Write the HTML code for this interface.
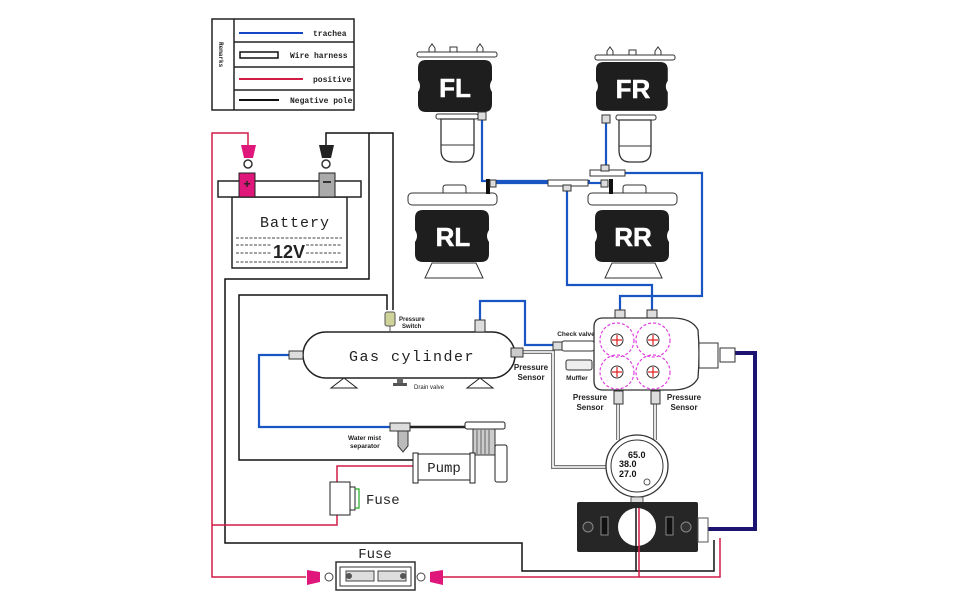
<!DOCTYPE html>
<html><head><meta charset="utf-8"><style>
html,body{margin:0;padding:0;background:#fff;}
svg{display:block;}
text{font-family:"Liberation Mono","DejaVu Sans Mono",monospace;}
.s{font-family:"Liberation Sans",sans-serif;font-weight:bold;}
</style></head><body>
<svg width="970" height="600" viewBox="0 0 970 600" xmlns="http://www.w3.org/2000/svg">
<rect width="970" height="600" fill="#fff"/>
<!-- Legend -->
<g stroke="#222" stroke-width="1.5" fill="none">
<rect x="212" y="19" width="142" height="91"/>
<line x1="234" y1="19" x2="234" y2="110"/>
<line x1="234" y1="42" x2="354" y2="42"/>
<line x1="234" y1="67" x2="354" y2="67"/>
<line x1="234" y1="90" x2="354" y2="90"/>
</g>
<line x1="239" y1="33" x2="303" y2="33" stroke="#1546c8" stroke-width="2"/>
<rect x="240" y="52" width="38" height="6" fill="none" stroke="#111" stroke-width="1.5"/>
<line x1="239" y1="79" x2="303" y2="79" stroke="#d21c46" stroke-width="2"/>
<line x1="239" y1="100" x2="279" y2="100" stroke="#111" stroke-width="2"/>
<g font-size="8" font-weight="bold" fill="#222">
<text x="313" y="36">trachea</text>
<text x="290" y="58">Wire harness</text>
<text x="313" y="82">positive</text>
<text x="290" y="103">Negative pole</text>
<text transform="translate(219,42) rotate(90)" font-size="6">Remarks</text>
</g>

<!-- black wires -->
<g stroke="#111" stroke-width="1.5" fill="none">
<polyline points="326,145 326,133 393,133 393,310"/>
<polyline points="369,133 369,279 225,279 225,543 522,543 522,571 714,571 714,540"/>
<polyline points="387,310 387,295 239,295 239,460 415,460"/>
<line x1="636" y1="510" x2="636" y2="571"/>
</g>
<!-- red wires -->
<g stroke="#d21c46" stroke-width="1.5" fill="none">
<polyline points="248,145 248,133 212,133 212,577 306,577"/>
<polyline points="443,577 720,577 720,538"/>
<line x1="639" y1="510" x2="639" y2="577"/>
<polyline points="415,466 337,466 337,482"/>
<polyline points="337,515 337,525 212,525"/>
</g>

<!-- Battery -->
<rect x="232" y="197" width="115" height="71" fill="#fff" stroke="#222" stroke-width="1.5"/>
<rect x="218" y="181" width="143" height="16" fill="#fff" stroke="#222" stroke-width="1.5"/>
<rect x="239" y="173" width="16" height="24" fill="#e0177a" stroke="#222"/>
<text x="247" y="188" font-size="12" fill="#fff" text-anchor="middle" class="s" style="fill:#222">+</text>
<rect x="319" y="173" width="16" height="24" fill="#aaa" stroke="#222"/>
<line x1="323" y1="182" x2="331" y2="182" stroke="#333" stroke-width="2"/>
<polygon points="241,145 256,145 253,158 244,158" fill="#e0177a"/>
<circle cx="248" cy="164" r="4" fill="#fff" stroke="#333" stroke-width="1.5"/>
<polygon points="319,145 334,145 331,158 322,158" fill="#222"/>
<circle cx="326" cy="164" r="4" fill="#fff" stroke="#333" stroke-width="1.5"/>
<text x="295" y="227" font-size="15" text-anchor="middle" fill="#222" style="letter-spacing:1px">Battery</text>
<g stroke="#444" stroke-width="1" stroke-dasharray="3,1.5">
<line x1="236" y1="238" x2="342" y2="238"/><line x1="236" y1="245" x2="272" y2="245"/><line x1="306" y1="245" x2="342" y2="245"/>
<line x1="236" y1="253" x2="272" y2="253"/><line x1="306" y1="253" x2="342" y2="253"/><line x1="236" y1="262" x2="342" y2="262"/>
</g>
<text x="289" y="258" font-size="18" text-anchor="middle" class="s" fill="#222">12V</text>

<!-- blue air lines -->
<g stroke="#1a55c4" stroke-width="2.2" fill="none">
<polyline points="482,118 482,181 590,181"/>
<polyline points="606,120 606,170"/>
<line x1="495" y1="183" x2="548" y2="183"/>
<line x1="588" y1="183" x2="602" y2="183"/>
<polyline points="567,187 567,285 652,285 652,312"/>
<polyline points="625,173 702,173 702,296 620,296 620,312"/>
<polyline points="480,320 480,301 525,301 525,345 553,345"/>
<polyline points="289,355 259,355 259,427 390,427"/>
</g>
<!-- gray sensor lines -->
<g fill="none" stroke="#777" stroke-width="4">
<polyline points="522,352 553,352 553,467 607,467"/>
<line x1="618" y1="404" x2="618" y2="440"/>
<line x1="655" y1="404" x2="655" y2="440"/>
</g>
<g fill="none" stroke="#fff" stroke-width="1.6">
<polyline points="522,352 553,352 553,467 607,467"/>
<line x1="618" y1="404" x2="618" y2="440"/>
<line x1="655" y1="404" x2="655" y2="440"/>
</g>
<!-- navy -->
<polyline points="735,353 755,353 755,529 708,529" fill="none" stroke="#1c1470" stroke-width="4"/>

<!-- Air springs -->
<defs>
<path id="bel" d="M8,0 H66 Q74,0 74,8 V20 Q70,26 74,32 V44 Q74,52 66,52 H8 Q0,52 0,44 V32 Q4,26 0,20 V8 Q0,0 8,0 Z"/>
</defs>
<!-- FL -->
<rect x="417" y="52" width="80" height="5" rx="2" fill="#fff" stroke="#333"/>
<g fill="#fff" stroke="#333"><path d="M429,52 v-4 l3,-4 l3,4 v4z"/><path d="M450,52 v-5 h7 v5z"/><path d="M477,52 v-4 l3,-4 l3,4 v4z"/></g>
<use href="#bel" x="418" y="60" fill="#1e1e1e"/>
<text x="455" y="97" font-size="26" text-anchor="middle" class="s" fill="#fff" stroke="#fff" stroke-width=".5">FL</text>
<rect x="436" y="114" width="42" height="5" rx="2" fill="#fff" stroke="#333"/>
<path d="M441,119 H474 V150 Q474,162 462,162 H453 Q441,162 441,150Z" fill="#fff" stroke="#333" stroke-width="1.3"/>
<line x1="441" y1="145" x2="474" y2="145" stroke="#333"/>
<rect x="478" y="112" width="8" height="8" fill="#ddd" stroke="#333"/>
<!-- FR -->
<rect x="595" y="55" width="80" height="5" rx="2" fill="#fff" stroke="#333"/>
<g fill="#fff" stroke="#333"><path d="M607,55 v-4 l3,-4 l3,4 v4z"/><path d="M629,55 v-5 h7 v5z"/><path d="M655,55 v-4 l3,-4 l3,4 v4z"/></g>
<use href="#bel" x="596" y="62" fill="#1e1e1e" transform="translate(596,62) scale(.97,0.94) translate(-596,-62)"/>
<text x="633" y="98" font-size="26" text-anchor="middle" class="s" fill="#fff" stroke="#fff" stroke-width=".5">FR</text>
<rect x="616" y="115" width="40" height="5" rx="2" fill="#fff" stroke="#333"/>
<path d="M619,120 H651 V150 Q651,162 640,162 H630 Q619,162 619,150Z" fill="#fff" stroke="#333" stroke-width="1.3"/>
<line x1="619" y1="146" x2="651" y2="146" stroke="#333"/>
<rect x="602" y="115" width="8" height="8" fill="#ddd" stroke="#333"/>
<!-- T fittings -->
<rect x="590" y="170" width="35" height="6" fill="#fff" stroke="#333"/>
<rect x="601" y="165" width="8" height="6" fill="#ddd" stroke="#333"/>
<rect x="548" y="180" width="40" height="6" fill="#fff" stroke="#333"/>
<rect x="563" y="185" width="8" height="6" fill="#ddd" stroke="#333"/>
<!-- RL -->
<path d="M443,193 v-5 q0,-3 3,-3 h17 q3,0 3,3 v5z" fill="#fff" stroke="#333"/>
<rect x="408" y="193" width="89" height="12" rx="4" fill="#fff" stroke="#333"/>
<rect x="486" y="179" width="4" height="15" fill="#111"/>
<rect x="490" y="180" width="6" height="7" fill="#ddd" stroke="#333"/>
<use href="#bel" x="415" y="210" fill="#1e1e1e"/>
<text x="453" y="246" font-size="26" text-anchor="middle" class="s" fill="#fff" stroke="#fff" stroke-width=".5">RL</text>
<polygon points="432,263 476,263 483,278 425,278" fill="#fff" stroke="#333"/>
<!-- RR -->
<path d="M623,193 v-5 q0,-3 3,-3 h17 q3,0 3,3 v5z" fill="#fff" stroke="#333"/>
<rect x="588" y="193" width="89" height="12" rx="4" fill="#fff" stroke="#333"/>
<rect x="609" y="179" width="4" height="15" fill="#111"/>
<rect x="601" y="180" width="7" height="7" fill="#ddd" stroke="#333"/>
<use href="#bel" x="595" y="210" fill="#1e1e1e"/>
<text x="633" y="246" font-size="26" text-anchor="middle" class="s" fill="#fff" stroke="#fff" stroke-width=".5">RR</text>
<polygon points="612,263 655,263 662,278 605,278" fill="#fff" stroke="#333"/>

<!-- Gas cylinder -->
<rect x="303" y="332" width="212" height="46" rx="23" fill="#fff" stroke="#222" stroke-width="1.5"/>
<text x="412" y="361" font-size="15" text-anchor="middle" fill="#222" style="letter-spacing:1.5px">Gas cylinder</text>
<polygon points="344,378 357,388 331,388" fill="#fff" stroke="#222"/>
<polygon points="480,378 493,388 467,388" fill="#fff" stroke="#222"/>
<rect x="397" y="378" width="6" height="6" fill="#666"/>
<rect x="393" y="383" width="14" height="3" fill="#555"/>
<text x="414" y="389" font-size="6" fill="#222" class="s" style="font-weight:normal">Drain valve</text>
<rect x="385" y="312" width="10" height="14" rx="2" fill="#cfd39a" stroke="#555"/>
<line x1="390" y1="326" x2="390" y2="332" stroke="#555"/>
<text x="399" y="321" font-size="6" class="s" fill="#222">Pressure</text>
<text x="402" y="328" font-size="6" class="s" fill="#222">Switch</text>
<rect x="475" y="320" width="10" height="12" fill="#ddd" stroke="#333"/>
<rect x="289" y="351" width="14" height="8" fill="#ddd" stroke="#333"/>
<rect x="511" y="348" width="12" height="9" fill="#ccc" stroke="#333"/>
<text x="531" y="370" font-size="8" class="s" text-anchor="middle" fill="#222">Pressure</text>
<text x="531" y="380" font-size="8" class="s" text-anchor="middle" fill="#222">Sensor</text>

<!-- water separator & pump -->
<rect x="390" y="423" width="20" height="8" fill="#ddd" stroke="#333"/>
<path d="M398,431 h10 v15 l-5,6 l-5,-6z" fill="#bbb" stroke="#333"/>
<text x="348" y="440" font-size="6.5" class="s" fill="#222">Water mist</text>
<text x="350" y="448" font-size="6.5" class="s" fill="#222">separator</text>
<line x1="410" y1="427" x2="465" y2="427" stroke="#222" stroke-width="2.5"/>
<rect x="465" y="422" width="40" height="7" rx="2" fill="#fff" stroke="#222"/>
<rect x="473" y="429" width="22" height="26" fill="#ccc" stroke="#333"/>
<g stroke="#666"><line x1="477" y1="430" x2="477" y2="454"/><line x1="481" y1="430" x2="481" y2="454"/><line x1="485" y1="430" x2="485" y2="454"/><line x1="489" y1="430" x2="489" y2="454"/></g>
<rect x="495" y="445" width="12" height="37" rx="2" fill="#fff" stroke="#222"/>
<rect x="416" y="454" width="58" height="26" fill="#fff" stroke="#222"/>
<rect x="413" y="453" width="5" height="30" fill="#fff" stroke="#222"/>
<rect x="470" y="453" width="5" height="30" fill="#fff" stroke="#222"/>
<text x="444" y="472" font-size="14" text-anchor="middle" fill="#222">Pump</text>
<!-- fuse 1 -->
<rect x="330" y="482" width="20" height="33" fill="#fff" stroke="#222"/>
<rect x="350" y="487" width="5" height="23" fill="#fff" stroke="#222"/>
<path d="M355,489 h4 v19 h-4" fill="none" stroke="#2a2" stroke-width="1.2"/>
<text x="366" y="504" font-size="14" fill="#222">Fuse</text>
<!-- fuse 2 -->
<text x="375" y="558" font-size="14" text-anchor="middle" fill="#222">Fuse</text>
<rect x="336" y="562" width="79" height="28" fill="#fff" stroke="#333" stroke-width="1.5"/>
<rect x="340" y="567" width="71" height="19" fill="#fff" stroke="#333"/>
<rect x="346" y="571" width="28" height="10" fill="#ddd" stroke="#444"/>
<rect x="378" y="571" width="28" height="10" fill="#ddd" stroke="#444"/>
<circle cx="349" cy="576" r="3" fill="#555"/><circle cx="403" cy="576" r="3" fill="#555"/>
<polygon points="307,570 320,572 320,582 307,585" fill="#e0177a"/>
<circle cx="329" cy="577" r="4" fill="#fff" stroke="#444"/>
<polygon points="443,570 430,572 430,582 443,585" fill="#e0177a"/>
<circle cx="421" cy="577" r="4" fill="#fff" stroke="#444"/>

<!-- manifold -->
<rect x="615" y="310" width="10" height="9" fill="#ddd" stroke="#333"/>
<rect x="647" y="310" width="10" height="9" fill="#ddd" stroke="#333"/>
<path d="M603,318 H672 Q692,318 698,330 Q700,354 698,378 Q692,390 672,390 H603 Q594,390 594,381 V327 Q594,318 603,318Z" fill="#fff" stroke="#333" stroke-width="1.3"/>
<g fill="none" stroke="#e040e0" stroke-width="1.2" stroke-dasharray="3,2">
<circle cx="617" cy="340" r="17"/><circle cx="653" cy="340" r="17"/><circle cx="617" cy="372" r="17"/><circle cx="653" cy="372" r="17"/>
</g>
<g fill="#fff" stroke="#333"><circle cx="617" cy="340" r="6"/><circle cx="653" cy="340" r="6"/><circle cx="617" cy="372" r="6"/><circle cx="653" cy="372" r="6"/></g>
<g stroke="#e02020" stroke-width="1.2">
<path d="M612,340h10M617,335v10M648,340h10M653,335v10M612,372h10M617,367v10M648,372h10M653,367v10"/>
</g>
<rect x="699" y="343" width="19" height="25" fill="#fff" stroke="#333"/>
<rect x="720" y="348" width="15" height="14" fill="#fff" stroke="#333"/>
<rect x="553" y="342" width="9" height="8" fill="#ddd" stroke="#333"/>
<rect x="562" y="341" width="32" height="10" rx="2" fill="#fff" stroke="#333"/>
<text x="576" y="336" font-size="6.5" class="s" text-anchor="middle" fill="#222">Check valve</text>
<rect x="566" y="360" width="26" height="10" rx="2" fill="#eee" stroke="#333"/>
<text x="577" y="380" font-size="6.5" class="s" text-anchor="middle" fill="#222">Muffler</text>
<rect x="614" y="391" width="9" height="13" fill="#ddd" stroke="#333"/>
<rect x="651" y="391" width="9" height="13" fill="#ddd" stroke="#333"/>
<text x="590" y="400" font-size="8" class="s" text-anchor="middle" fill="#222">Pressure</text>
<text x="590" y="410" font-size="8" class="s" text-anchor="middle" fill="#222">Sensor</text>
<text x="684" y="400" font-size="8" class="s" text-anchor="middle" fill="#222">Pressure</text>
<text x="684" y="410" font-size="8" class="s" text-anchor="middle" fill="#222">Sensor</text>

<!-- gauge -->
<circle cx="637" cy="466" r="31" fill="#fff" stroke="#333" stroke-width="1.3"/>
<circle cx="637" cy="466" r="26" fill="#fff" stroke="#333"/>
<text x="628" y="458" font-size="9" class="s" fill="#111">65.0</text>
<text x="619" y="467" font-size="9" class="s" fill="#111">38.0</text>
<text x="619" y="477" font-size="9" class="s" fill="#111">27.0</text>
<circle cx="647" cy="482" r="3" fill="none" stroke="#555"/>
<rect x="631" y="497" width="12" height="6" fill="#ddd" stroke="#555"/>

<!-- controller -->
<rect x="577" y="502" width="121" height="50" rx="2" fill="#262626"/>
<circle cx="637" cy="527" r="19" fill="#fff"/>
<line x1="636" y1="508" x2="636" y2="552" stroke="#111" stroke-width="1.5"/>
<line x1="639" y1="508" x2="639" y2="552" stroke="#d21c46" stroke-width="1.5"/>
<circle cx="588" cy="527" r="5" fill="#333" stroke="#888"/>
<circle cx="686" cy="527" r="5" fill="#333" stroke="#888"/>
<rect x="601" y="517" width="7" height="18" fill="#111" stroke="#888"/>
<rect x="666" y="517" width="7" height="18" fill="#111" stroke="#888"/>
<rect x="698" y="518" width="10" height="24" fill="#fff" stroke="#555"/>
</svg>
</body></html>
